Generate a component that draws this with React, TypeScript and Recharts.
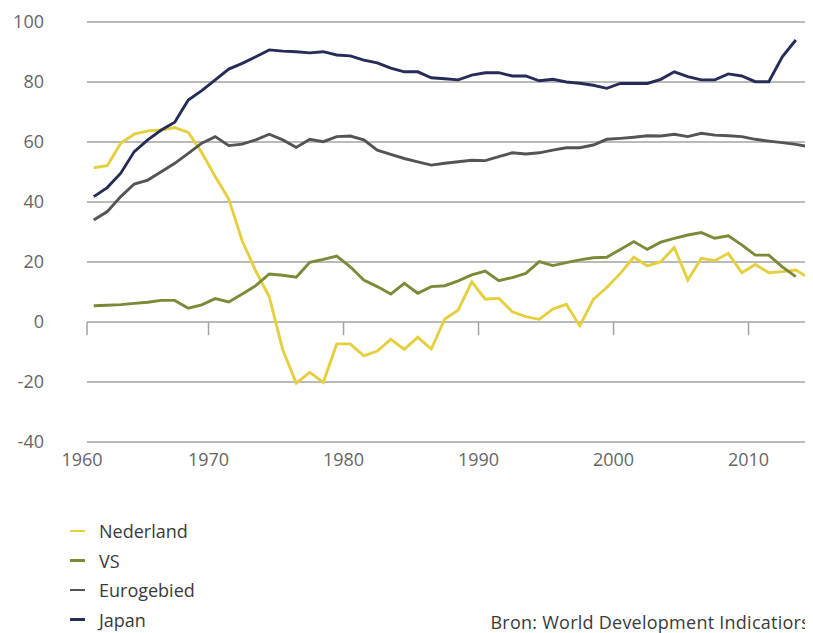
import React from "react";
import { LineChart, Line, XAxis, YAxis, CartesianGrid, ReferenceLine } from "recharts";

const years = [
  1961, 1962, 1963, 1964, 1965, 1966, 1967, 1968, 1969, 1970,
  1971, 1972, 1973, 1974, 1975, 1976, 1977, 1978, 1979, 1980,
  1981, 1982, 1983, 1984, 1985, 1986, 1987, 1988, 1989, 1990,
  1991, 1992, 1993, 1994, 1995, 1996, 1997, 1998, 1999, 2000,
  2001, 2002, 2003, 2004, 2005, 2006, 2007, 2008, 2009, 2010,
  2011, 2012, 2013, 2014,
];

const nederland = [
  51.4, 52.1, 59.6, 62.6, 63.7, 64, 64.8, 63.2, 56.5, 48.5,
  41, 27, 17, 8.4, -9.3, -20.4, -16.8, -20.1, -7.3, -7.3,
  -11.3, -9.7, -5.8, -9.1, -5.1, -9, 1, 4, 13.4, 7.6,
  7.9, 3.4, 1.8, 0.9, 4.3, 5.9, -1.3, 7.5, 11.5, 16.2,
  21.6, 18.7, 20.1, 24.8, 14, 21.2, 20.4, 22.9, 16.4, 19.2,
  16.4, 16.8, 17.3, 14.6,
];

const vs = [
  5.4, 5.6, 5.8, 6.2, 6.6, 7.2, 7.2, 4.6, 5.7, 7.8,
  6.7, 9.3, 12.1, 16, 15.6, 14.9, 19.9, 20.9, 22, 18.4,
  14, 11.8, 9.3, 12.9, 9.6, 11.8, 12.1, 13.7, 15.7, 17,
  13.8, 14.8, 16.2, 20.1, 18.8, 19.8, 20.7, 21.4, 21.6, 24.2,
  26.8, 24.2, 26.6, 27.9, 29, 29.8, 27.9, 28.7, 25.7, 22.3,
  22.3, 18.4, 15.1, null,
];

const eurogebied = [
  34, 36.8, 41.8, 46, 47.3, 50.1, 52.9, 56.2, 59.6, 61.8,
  58.8, 59.3, 60.7, 62.6, 60.7, 58.2, 60.9, 60.1, 61.8, 62,
  60.7, 57.3, 55.9, 54.5, 53.4, 52.3, 52.9, 53.4, 53.9, 53.8,
  55.1, 56.4, 56, 56.4, 57.3, 58.1, 58.1, 59, 60.9, 61.2,
  61.6, 62.1, 62, 62.6, 61.8, 62.9, 62.3, 62.1, 61.8, 60.9,
  60.3, 59.8, 59.2, 58.4,
];

const japan = [
  41.8, 44.8, 49.6, 56.8, 60.7, 64, 66.6, 74, 77.1, 80.7,
  84.3, 86.2, 88.4, 90.7, 90.3, 90.1, 89.7, 90.1, 89, 88.7,
  87.3, 86.4, 84.6, 83.4, 83.4, 81.4, 81.1, 80.7, 82.3, 83.1,
  83.1, 82, 82, 80.4, 80.9, 80, 79.6, 78.9, 77.9, 79.5,
  79.5, 79.5, 80.9, 83.4, 81.8, 80.7, 80.7, 82.7, 82, 80.1,
  80.1, 88.4, 94, null,
];

const xTicks = [1960.5, 1969.5, 1979.5, 1989.5, 1999.5, 2009.5];
const yTicks = [-40, -20, 0, 20, 40, 60, 80, 100];

const seriesNames = ["Nederland", "VS", "Eurogebied", "Japan"];
const seriesKeys = ["nederland", "vs", "eurogebied", "japan"];
const seriesColors = ["#e6cf3f", "#7c8a37", "#555353", "#262b57"];
const sourceText = "Bron: World Development Indicatiors";

const data = years.map((year, i) => ({
  year,
  nederland: nederland[i],
  vs: vs[i],
  eurogebied: eurogebied[i],
  japan: japan[i],
}));

const FONT = "'Open Sans', sans-serif";

const XTick = (props: any) => {
  const { x, y, payload, index } = props;
  const label = String(Math.round(payload.value / 10) * 10);
  return (
    <text
      x={x + (index === 0 ? -5 : 0)}
      y={y}
      dy="0.71em"
      textAnchor="middle"
      fill="#666"
      fontSize={18}
      fontFamily={FONT}
    >
      {label}
    </text>
  );
};

export default function App() {
  return (
    <div style={{ position: "relative", width: 805, height: 625, fontFamily: FONT }}>
      <style>{`html,body{overflow:hidden}`}</style>
      <LineChart
        width={805}
        height={480}
        data={data}
        margin={{ top: 14, right: 1, left: 0, bottom: 6 }}
        style={{ fontFamily: FONT }}
      >
        <CartesianGrid horizontal={true} vertical={false} stroke="#a3a3a3" strokeWidth={1.5} />
        <XAxis
          type="number"
          dataKey="year"
          domain={[1960.5, 2014.2]}
          ticks={xTicks}
          allowDataOverflow={true}
          axisLine={false}
          tickLine={false}
          tickSize={0}
          tickMargin={11}
          height={40}
          tick={<XTick />}
          interval={0}
        />
        <YAxis
          type="number"
          domain={[-40, 100]}
          ticks={yTicks}
          axisLine={false}
          tickLine={false}
          tickSize={0}
          tickMargin={43}
          width={79}
          tick={{ fill: "#666", fontSize: 18, fontFamily: FONT }}
          interval={0}
        />
        {xTicks.map((t) => (
          <ReferenceLine
            key={t}
            segment={[
              { x: t, y: 0 },
              { x: t, y: -4.4 },
            ]}
            stroke="#a3a3a3"
            strokeWidth={1.5}
          />
        ))}
        {seriesKeys.map((k, i) => (
          <Line
            key={k}
            type="linear"
            dataKey={k}
            name={seriesNames[i]}
            stroke={seriesColors[i]}
            strokeWidth={2.9}
            dot={false}
            activeDot={false}
            isAnimationActive={false}
            connectNulls={false}
          />
        ))}
      </LineChart>
      {seriesNames.map((name, i) => (
        <div
          key={name}
          style={{
            position: "absolute",
            left: 62,
            top: 508 + i * 29.5,
            height: 30,
            lineHeight: "30px",
            display: "flex",
            alignItems: "center",
            fontSize: 18,
            color: "#3a3a3a",
          }}
        >
          <span
            style={{
              display: "inline-block",
              width: 15,
              height: 2.5,
              background: seriesColors[i],
              marginRight: 14,
            }}
          />
          <span>{name}</span>
        </div>
      ))}
      <div
        style={{
          position: "absolute",
          right: 3,
          top: 599,
          height: 30,
          lineHeight: "30px",
          fontSize: 18,
          letterSpacing: "0.25px",
          color: "#3a3a3a",
          whiteSpace: "nowrap",
        }}
      >
        {sourceText}
      </div>
    </div>
  );
}
